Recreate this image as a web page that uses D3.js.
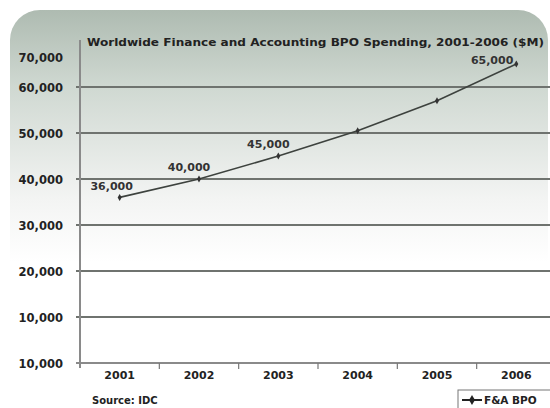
<!DOCTYPE html>
<html>
<head>
<meta charset="utf-8">
<script src="https://cdn.jsdelivr.net/npm/d3@7"></script>
<style>
  body { margin: 0; background: #fff; }
  text { font-family: "DejaVu Sans", Verdana, sans-serif; font-weight: bold; fill: #222; }
</style>
</head>
<body>
<div id="chart"></div>
<script>
const years = ['2001', '2002', '2003', '2004', '2005', '2006'];
const spending = [36000, 40000, 45000, 50500, 57000, 65000];
const pointLabels = ['36,000', '40,000', '45,000', '', '', '65,000'];
const yTicks = [0, 10000, 20000, 30000, 40000, 50000, 60000, 70000];
const yTickLabels = ['10,000', '10,000', '20,000', '30,000', '40,000', '50,000', '60,000', '70,000'];

const width = 550;
const height = 408;

const svg = d3.select('#chart')
    .append('svg')
    .attr('width', width)
    .attr('height', height);

// background panel with gradient
const defs = svg.append('defs');
const grad = defs.append('linearGradient')
    .attr('id', 'bg')
    .attr('x1', 0).attr('y1', 0).attr('x2', 0).attr('y2', 1);
grad.append('stop').attr('offset', '0%').attr('stop-color', '#aebbb1');
grad.append('stop').attr('offset', '18%').attr('stop-color', '#cfd8d1');
grad.append('stop').attr('offset', '45%').attr('stop-color', '#f3f4f3');
grad.append('stop').attr('offset', '60%').attr('stop-color', '#ffffff');
grad.append('stop').attr('offset', '100%').attr('stop-color', '#ffffff');

svg.append('rect')
    .attr('x', 10)
    .attr('y', 10)
    .attr('width', 538)
    .attr('height', 420)
    .attr('rx', 30)
    .style('fill', 'url(#bg)');

const xScale = d3.scaleBand()
    .domain(years)
    .range([80, 556]);

const yScale = d3.scaleLinear()
    .domain([0, 70000])
    .range([363, 41]);

// gridlines
svg.append('g')
    .selectAll('line')
    .data(yTicks.filter(v => v > 0 && v < 70000))
    .enter()
    .append('line')
    .attr('x1', 76)
    .attr('x2', width)
    .attr('y1', d => yScale(d))
    .attr('y2', d => yScale(d))
    .style('stroke', '#6f736f')
    .style('stroke-width', 2);

// y axis
const yAxis = d3.axisLeft(yScale)
    .tickValues(yTicks)
    .tickSize(0)
    .tickPadding(17)
    .tickFormat((d, i) => yTickLabels[i]);

const yG = svg.append('g')
    .attr('id', 'y-axis')
    .attr('transform', 'translate(80, 0)')
    .call(yAxis);
yG.select('.domain').remove();
yG.selectAll('text')
    .style('font-size', '11.5px')
    .attr('dy', (d) => d === 70000 ? '1.8em' : '0.4em');

svg.append('line')
    .attr('x1', 80).attr('x2', 80)
    .attr('y1', 40).attr('y2', 368)
    .style('stroke', '#8a8a8a')
    .style('stroke-width', 2);

// x axis
const xAxis = d3.axisBottom(xScale).tickSize(0).tickPadding(8);
const xG = svg.append('g')
    .attr('id', 'x-axis')
    .attr('transform', 'translate(0, 363)')
    .call(xAxis);
xG.select('.domain').remove();
xG.selectAll('text').style('font-size', '11px');

svg.append('line')
    .attr('x1', 76).attr('x2', width)
    .attr('y1', 363).attr('y2', 363)
    .style('stroke', '#8a8a8a')
    .style('stroke-width', 2);

svg.append('g')
    .selectAll('line')
    .data(years.slice(1))
    .enter()
    .append('line')
    .attr('x1', d => xScale(d))
    .attr('x2', d => xScale(d))
    .attr('y1', 363)
    .attr('y2', 369)
    .style('stroke', '#777')
    .style('stroke-width', 1.2);

// title
svg.append('text')
    .attr('x', 87)
    .attr('y', 46)
    .attr('textLength', 457)
    .attr('lengthAdjust', 'spacingAndGlyphs')
    .style('font-size', '10.5px')
    .text('Worldwide Finance and Accounting BPO Spending, 2001-2006 ($M)');

// line
const line = d3.line()
    .x((d, i) => xScale(years[i]) + xScale.bandwidth() / 2)
    .y(d => yScale(d));

svg.append('path')
    .datum(spending)
    .attr('d', line)
    .style('fill', 'none')
    .style('stroke', '#3d423e')
    .style('stroke-width', 1.6);

svg.selectAll('.dot')
    .data(spending)
    .enter()
    .append('path')
    .attr('class', 'dot')
    .attr('d', d3.symbol().type(d3.symbolDiamond).size(14))
    .attr('transform', (d, i) => `translate(${xScale(years[i]) + xScale.bandwidth() / 2}, ${yScale(d)})`)
    .style('fill', '#333');

// point labels
const labelOffsets = [[-8, -7, 'middle'], [-10, -8, 'middle'], [-10, -8, 'middle'], [0, -8, 'middle'], [0, -8, 'middle'], [-3, 0, 'end']];
svg.selectAll('.pt-label')
    .data(spending)
    .enter()
    .append('text')
    .attr('class', 'pt-label')
    .attr('x', (d, i) => xScale(years[i]) + xScale.bandwidth() / 2 + labelOffsets[i][0])
    .attr('y', (d, i) => yScale(d) + labelOffsets[i][1])
    .attr('text-anchor', (d, i) => labelOffsets[i][2])
    .style('font-size', '11px')
    .style('fill', '#333')
    .text((d, i) => pointLabels[i]);

// source
svg.append('text')
    .attr('x', 92)
    .attr('y', 404)
    .style('font-size', '10px')
    .text('Source: IDC');

// legend
const legend = svg.append('g')
    .attr('id', 'legend')
    .attr('transform', 'translate(458, 390)');

legend.append('rect')
    .attr('x', 0)
    .attr('y', 0)
    .attr('width', 100)
    .attr('height', 30)
    .style('fill', '#fff')
    .style('stroke', '#777')
    .style('stroke-width', 1);

legend.append('line')
    .attr('x1', 4).attr('x2', 24)
    .attr('y1', 10).attr('y2', 10)
    .style('stroke', '#222')
    .style('stroke-width', 2);

legend.append('path')
    .attr('d', d3.symbol().type(d3.symbolDiamond).size(30))
    .attr('transform', 'translate(14, 10)')
    .style('fill', '#222');

legend.append('text')
    .attr('x', 26)
    .attr('y', 14)
    .style('font-size', '10.5px')
    .text('F&A BPO');
</script>
</body>
</html>
